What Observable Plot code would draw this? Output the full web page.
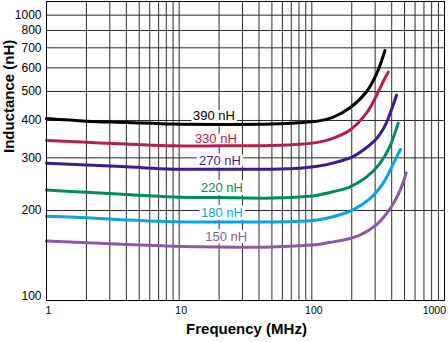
<!DOCTYPE html>
<html>
<head>
<meta charset="utf-8">
<script src="https://cdn.jsdelivr.net/npm/d3@7"></script>
<script src="https://cdn.jsdelivr.net/npm/@observablehq/plot@0.6"></script>
<style>
  html, body { margin: 0; padding: 0; background: #fff; }
  #chart { width: 448px; height: 342px; }
</style>
</head>
<body>
<div id="chart"></div>
<script>
// Series names and colours
const seriesNames = ["390 nH", "330 nH", "270 nH", "220 nH", "180 nH", "150 nH"];
const seriesColors = ["#000000", "#b3204f", "#3e1a8a", "#008a5e", "#0aa3dd", "#8a58a6"];

// Frequency (MHz) and inductance (nH) readings per series
const f390 = [1, 2, 4, 9, 20, 50, 81, 110, 144, 194, 259, 308, 356];
const v390 = [406, 398, 394, 389, 388, 389, 393, 398, 410, 441, 500, 574, 686];
const f330 = [1, 2, 4, 9, 20, 50, 81, 110, 137, 194, 259, 308, 345, 377];
const v330 = [343, 338, 334, 329, 329, 330, 333, 338, 346, 372, 424, 486, 540, 581];
const f270 = [1, 2, 4, 9, 20, 50, 81, 110, 144, 204, 259, 308, 347, 366, 435];
const v270 = [288, 284, 280, 275, 275, 275, 277, 281, 288, 303, 325, 348, 376, 394, 486];
const f220 = [1, 2, 4, 9, 20, 50, 81, 110, 144, 194, 259, 325, 385, 448];
const v220 = [234, 230, 226, 222, 221, 220, 222, 225, 231, 240, 259, 287, 326, 392];
const f180 = [1, 2, 4, 9, 20, 50, 81, 110, 144, 204, 274, 347, 413, 465];
const v180 = [191.5, 189, 186, 183.5, 183, 183, 184, 186, 190.5, 201, 219, 248, 288, 320];
const f150 = [1, 2, 4, 9, 20, 50, 81, 110, 137, 180, 230, 308, 387, 465, 514];
const v150 = [158, 156, 154, 152, 151, 151, 152.5, 154, 156.5, 160, 165.5, 179.5, 202, 235, 267];

// Series label anchors (frequency, inductance)
const labelFreq = [18.3, 18.9, 20.3, 21, 21, 22.6];
const labelInd = [416, 347, 294, 239, 196, 163];

// Grid and tick values
const xGrid = [2,3,4,5,6,7,8,9,10,20,30,40,50,60,70,80,90,100,200,300,400,500,600,700,800,900];
const yGrid = [200,300,400,500,600,700,800,900];
const xTickValues = [1, 10, 100];
const xTickLast = [1000];
const yTickValues = [200, 300, 400, 500, 600, 700, 800, 900];
const yTickLabels = ["200", "300", "400", "500", "600", "700", "800", "1000"];
const yTickBottom = [100];

const freqs = [f390, f330, f270, f220, f180, f150];
const vals = [v390, v330, v270, v220, v180, v150];
const rows = [];
seriesNames.forEach((s, i) => {
  freqs[i].forEach((f, j) => rows.push({series: s, freq: f, ind: vals[i][j]}));
});
const labels = seriesNames.map((s, i) => ({series: s, freq: labelFreq[i], ind: labelInd[i]}));
const yTicks = yTickValues.map((v, i) => ({value: v, label: yTickLabels[i]}));

const font = "'Liberation Sans', Arial, Helvetica, sans-serif";

const chart = Plot.plot({
  width: 448,
  height: 342,
  marginLeft: 46,
  marginRight: 4,
  marginTop: 1,
  marginBottom: 42,
  style: {fontFamily: font, background: "#fff", color: "#000"},
  x: {type: "log", domain: [1, 1000], axis: null},
  y: {type: "log", domain: [100, 1000], axis: null},
  color: {domain: seriesNames, range: seriesColors},
  marks: [
    Plot.ruleX(xGrid, {stroke: "#2a2a2a", strokeWidth: 1}),
    Plot.ruleY(yGrid, {stroke: "#2a2a2a", strokeWidth: 1}),
    Plot.text(labels, {
      x: "freq", y: "ind", text: "series", fill: "series",
      fontSize: 13, stroke: "white", strokeWidth: 6, paintOrder: "stroke"
    }),
    Plot.line(rows, {
      x: "freq", y: "ind", z: "series", stroke: "series",
      strokeWidth: 3, curve: "catmull-rom"
    }),
    Plot.frame({stroke: "#000", strokeWidth: 1}),
    Plot.axisX(xTickValues, {
      tickSize: 0, tickPadding: 6, fontSize: 10.5, dx: 2, label: null,
      tickFormat: d => String(d)
    }),
    Plot.axisX(xTickLast, {
      tickSize: 0, tickPadding: 6, fontSize: 10.5, dx: 1.5, textAnchor: "end", label: null,
      tickFormat: d => String(d)
    }),
    Plot.text(yTicks, {
      y: "value", text: "label", frameAnchor: "left", textAnchor: "end",
      dx: -5, fontSize: 12, fill: "#000"
    }),
    Plot.text(yTickBottom, {
      y: d => d, text: d => String(d), frameAnchor: "left", textAnchor: "end",
      dx: -5, dy: -4, fontSize: 12, fill: "#000"
    }),
    Plot.text(["Frequency (MHz)"], {
      frameAnchor: "bottom", text: d => d, dy: 29, dx: 1, lineAnchor: "middle",
      fontSize: 15, fontWeight: "bold", fill: "#000"
    }),
    Plot.text(["Inductance (nH)"], {
      frameAnchor: "left", text: d => d, rotate: -90, dx: -37, dy: 2, lineAnchor: "middle",
      fontSize: 15, fontWeight: "bold", fill: "#000"
    })
  ]
});
document.getElementById("chart").appendChild(chart);
</script>
</body>
</html>
